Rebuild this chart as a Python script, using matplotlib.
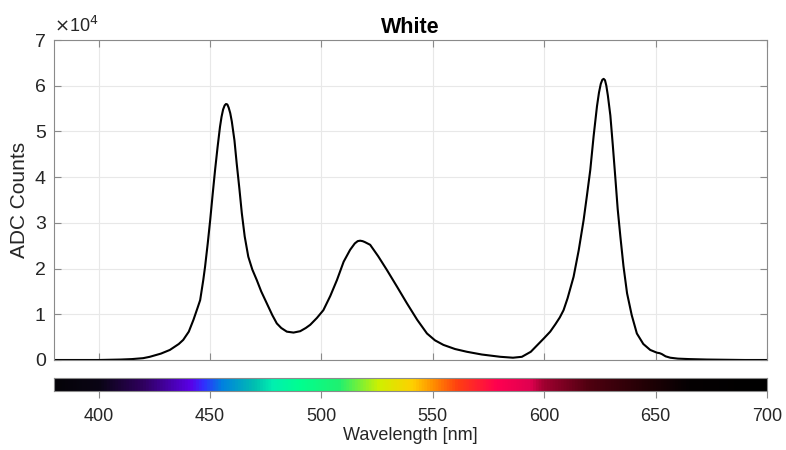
import numpy as np
import matplotlib
matplotlib.use("Agg")
import matplotlib.pyplot as plt
from matplotlib.colors import LinearSegmentedColormap

plt.rcParams['font.family'] = ['Liberation Sans', 'DejaVu Sans']

# measured spectrum of the white LED (wavelength in nm, counts in units of 1e4)
wavelength = [380, 400, 410, 415, 420, 423, 428, 432, 436, 438, 440.5, 442.6, 444.5,
              445.6, 447, 447.8, 449, 450.1, 451.2, 452.3, 453.4, 454.5, 455.2, 455.9,
              456.6, 457.2, 457.8, 458.4, 459.1, 459.8, 461, 462.0, 463.2, 464.3,
              465.6, 467.2, 469, 471, 473, 475.5, 478, 480, 482, 484.5, 487.5, 490.5,
              493, 495, 498, 500.9, 504, 507, 510, 512.9, 515, 516.3, 517.4, 518.5,
              519.5, 521.9, 525.5, 529.4, 534, 538.4, 543, 547.4, 551, 554.8, 560,
              565.3, 572, 580.3, 586, 590, 594, 597, 600, 602.7, 605, 607, 608.7,
              610.5, 613.2, 615.5, 617.7, 619.2, 620.7, 622.2, 623.7, 624.6, 625.4,
              626.1, 626.7, 627.3, 627.9, 628.6, 629.7, 630.8, 631.9, 633, 634.2,
              635.6, 637.2, 639.3, 641.6, 644.5, 647.6, 650.6, 651.8, 652.8, 654.5,
              656.6, 660, 665, 673, 690, 700]
counts_e4 = [0.0, 0.0, 0.01, 0.02, 0.04, 0.07, 0.14, 0.22, 0.35, 0.44, 0.62, 0.88, 1.15,
             1.31, 1.75, 2.04, 2.55, 3.06, 3.62, 4.16, 4.65, 5.1, 5.32, 5.48,
             5.57, 5.6, 5.59, 5.52, 5.4, 5.22, 4.8, 4.3, 3.75, 3.21,
             2.7, 2.26, 1.98, 1.75, 1.5, 1.24, 0.98, 0.8, 0.7, 0.62, 0.6, 0.63,
             0.7, 0.77, 0.92, 1.09, 1.4, 1.75, 2.15, 2.41, 2.55, 2.6, 2.61, 2.6,
             2.58, 2.52, 2.27, 1.97, 1.6, 1.24, 0.88, 0.58, 0.43, 0.33, 0.24,
             0.18, 0.12, 0.07, 0.05, 0.07, 0.18, 0.33, 0.48, 0.62, 0.78, 0.93, 1.09,
             1.35, 1.82, 2.4, 3.06, 3.6, 4.16, 4.9, 5.55, 5.85, 6.04,
             6.13, 6.15, 6.12, 6.0, 5.78, 5.35, 4.7, 4.01, 3.3, 2.7,
             2.05, 1.46, 0.98, 0.58, 0.35, 0.22, 0.16, 0.15, 0.13, 0.08,
             0.05, 0.03, 0.02, 0.01, 0.0, 0.0]
counts = np.array(counts_e4) * 1e4

# colour stops for the wavelength bar
bar_nm = [380, 400, 420, 441, 447, 455, 470, 478, 490, 508, 526, 541, 550, 561,
          570, 579, 594, 600, 620, 647, 665, 700]
bar_colors = ['#050308', '#0a0515', '#300060', '#5a00e8', '#3030ff', '#0080e0',
              '#00c0b0', '#00f0b0', '#00ff90', '#20f070', '#d0f000', '#ffd000',
              '#ff9000', '#ff4010', '#ff2030', '#ff0050', '#e00050', '#a00030',
              '#500010', '#200005', '#050002', '#000000']

x_min, x_max = 380, 700
ticks_x = [400, 450, 500, 550, 600, 650, 700]
spine_col = '#8a8a8a'
text_col = '#262626'

fig = plt.figure(figsize=(7.86, 4.5), dpi=100)
ax = fig.add_axes([0.0687, 0.2, 0.9071, 0.7111])

ax.plot(wavelength, counts, color='black', lw=1.5)
ax.set_xlim(x_min, x_max)
ax.set_ylim(0, 7e4)
ax.set_xticks(ticks_x)
ax.set_xticklabels([])
ax.set_yticks(np.arange(0, 8) * 1e4)
ax.set_yticklabels([str(i) for i in range(8)])
ax.grid(True, color='#e8e8e8', lw=0.8)
ax.set_axisbelow(True)
ax.tick_params(direction='in', length=5, width=0.8, color=spine_col,
               top=True, right=True, labelsize=14, labelcolor=text_col, pad=6)
for s in ax.spines.values():
    s.set_color(spine_col)
    s.set_linewidth(0.8)
ax.set_ylabel('ADC Counts', fontsize=15, color=text_col, labelpad=4)
ax.set_title('White', fontsize=15.5, fontweight='bold', color='black', pad=5)
ax.text(0.0, 1.012, r'$\times$10$^{4}$', transform=ax.transAxes, fontsize=13,
        color=text_col, ha='left', va='bottom')

# wavelength colour bar
cmap = LinearSegmentedColormap.from_list(
    'spec', [((n - x_min) / (x_max - x_min), c) for n, c in zip(bar_nm, bar_colors)])
cax = fig.add_axes([0.0687, 0.1311, 0.9071, 0.0289])
grad = np.linspace(0, 1, 512).reshape(1, -1)
cax.imshow(grad, aspect='auto', cmap=cmap, extent=[x_min, x_max, 0, 1])
cax.set_xlim(x_min, x_max)
cax.set_yticks([])
cax.set_xticks(ticks_x)
cax.tick_params(direction='out', length=5, width=0.8, color=spine_col,
                labelsize=13, labelcolor=text_col, pad=7)
for s in cax.spines.values():
    s.set_color(spine_col)
    s.set_linewidth(0.8)
cax.set_xlabel('Wavelength [nm]', fontsize=13, color=text_col, labelpad=2)

fig.savefig('out.png', dpi=100)
